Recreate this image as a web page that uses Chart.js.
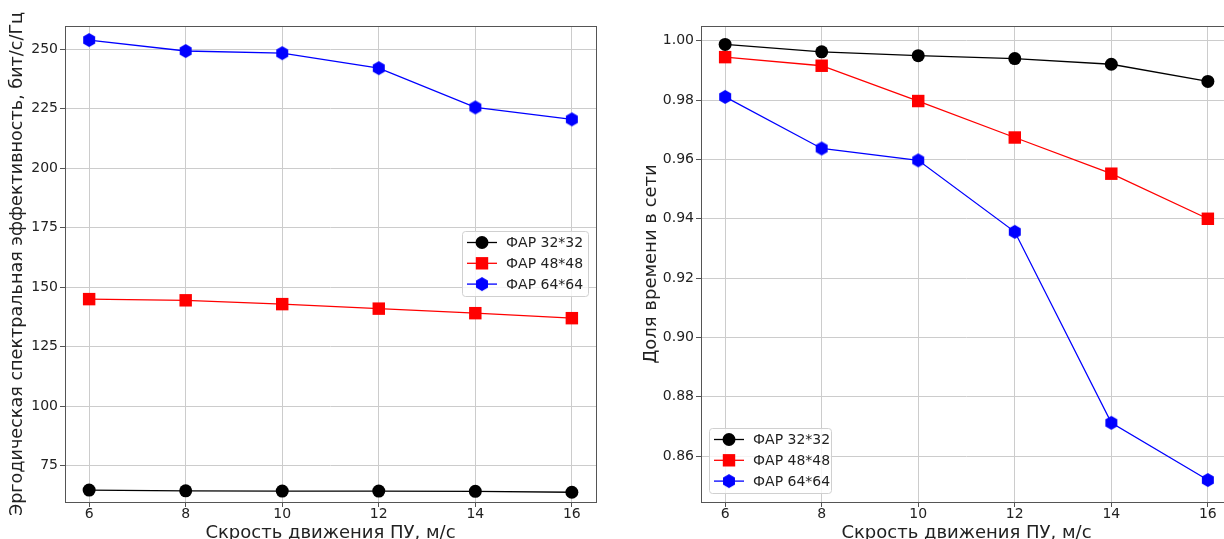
<!DOCTYPE html>
<html>
<head>
<meta charset="utf-8">
<script src="https://cdn.jsdelivr.net/npm/chart.js@4.4.1/dist/chart.umd.min.js"></script>
<style>
    html, body { margin: 0; padding: 0; background: #fff; overflow: hidden; width: 1224px; height: 539px; }
    canvas { position: absolute; top: 0; }
    #leftChart { left: 0; }
    #rightChart { left: 612px; }
</style>
</head>
<body>
<canvas id="leftChart" width="612" height="550"></canvas>
<canvas id="rightChart" width="640" height="550"></canvas>
<script>
// speeds of the user device, m/s
const speeds = [6, 8, 10, 12, 14, 16];
const seriesNames = ['ФАР 32*32', 'ФАР 48*48', 'ФАР 64*64'];

// ergodic spectral efficiency, bit/s/Hz
const se32 = [64.8, 64.5, 64.4, 64.4, 64.3, 63.9];
const se48 = [145.0, 144.5, 142.9, 141.0, 139.1, 137.0];
const se64 = [253.8, 249.2, 248.3, 242.0, 225.5, 220.5];

// share of time in the network
const on32 = [0.9988, 0.9963, 0.9950, 0.9940, 0.9921, 0.9863];
const on48 = [0.9945, 0.9916, 0.9797, 0.9674, 0.9552, 0.9400];
const on64 = [0.9811, 0.9637, 0.9597, 0.9356, 0.8712, 0.8519];

// tick labels
const xTicks = [6, 8, 10, 12, 14, 16];
const leftYTicks = [75, 100, 125, 150, 175, 200, 225, 250];
const rightYTicks = [0.86, 0.88, 0.90, 0.92, 0.94, 0.96, 0.98, 1.00];

const xTitle = 'Скрость движения ПУ, м/с';
const leftTitle = 'Эргодическая спектральная эффективность, бит/с/Гц';
const rightTitle = 'Доля времени в сети';

const FONT = 'DejaVu Sans';

// hexagon marker like matplotlib 'h'
const hexMarker = (() => {
    const c = document.createElement('canvas');
    c.width = 16; c.height = 16;
    const g = c.getContext('2d');
    g.fillStyle = 'blue';
    g.beginPath();
    for (let i = 0; i < 6; i++) {
        const a = -Math.PI / 2 + i * Math.PI / 3;
        const px = 8 + 6.9 * Math.cos(a), py = 8 + 6.9 * Math.sin(a);
        if (i === 0) g.moveTo(px, py); else g.lineTo(px, py);
    }
    g.closePath();
    g.fill();
    return c;
})();

const styles = [
    { color: 'black', pointStyle: 'circle', radius: 6.5 },
    { color: 'red', pointStyle: 'rect', radius: 8.8 },
    { color: 'blue', pointStyle: hexMarker, radius: 7 },
];

const toPoints = (ys) => ys.map((y, i) => ({ x: speeds[i], y: y }));

const makeDatasets = (lists) => lists.map((ys, i) => ({
    label: seriesNames[i],
    data: toPoints(ys),
    borderColor: styles[i].color,
    backgroundColor: styles[i].color,
    borderWidth: 1.3,
    pointStyle: styles[i].pointStyle,
    pointRadius: styles[i].radius,
    pointBorderWidth: 0,
    tension: 0,
}));

// frame around the plot area + legend box
const framePlugin = {
    id: 'frame',
    afterDatasetsDraw(chart, args, opts) {
        const { ctx, chartArea: a } = chart;
        ctx.save();
        ctx.strokeStyle = '#555';
        ctx.lineWidth = 1;
        ctx.strokeRect(Math.round(a.left) + 0.5, Math.round(a.top) + 0.5,
            Math.round(a.right - a.left), Math.round(a.bottom - a.top));

        // legend
        const lg = opts.legend;
        const x0 = a.left + lg.x, y0 = a.top + lg.y;
        ctx.beginPath();
        ctx.roundRect(x0 + 0.5, y0 + 0.5, lg.w, lg.h, 3);
        ctx.fillStyle = 'rgba(255,255,255,0.8)';
        ctx.fill();
        ctx.strokeStyle = '#d0d0d0';
        ctx.stroke();
        ctx.font = '14px "' + FONT + '"';
        ctx.textBaseline = 'middle';
        seriesNames.forEach((name, i) => {
            const y = y0 + 11.5 + i * 20.8;
            const lx = x0 + 5;
            ctx.strokeStyle = styles[i].color;
            ctx.lineWidth = 1.3;
            ctx.beginPath();
            ctx.moveTo(lx, y); ctx.lineTo(lx + 30, y);
            ctx.stroke();
            const mx = lx + 15;
            ctx.fillStyle = styles[i].color;
            if (i === 0) {
                ctx.beginPath(); ctx.arc(mx, y, 6.5, 0, Math.PI * 2); ctx.fill();
            } else if (i === 1) {
                ctx.fillRect(mx - 6.2, y - 6.2, 12.4, 12.4);
            } else {
                ctx.drawImage(hexMarker, mx - 8, y - 8);
            }
            ctx.fillStyle = '#222';
            ctx.fillText(name, lx + 39, y + 1);
        });
        ctx.restore();
    }
};

const buildChart = (id, lists, cfg) => {
    return new Chart(document.getElementById(id), {
        type: 'line',
        data: { datasets: makeDatasets(lists) },
        plugins: [framePlugin],
        options: {
            responsive: false,
            animation: false,
            layout: { padding: { top: 26, right: cfg.padRight, bottom: 0, left: 0 } },
            plugins: {
                legend: { display: false },
                tooltip: { enabled: false },
                frame: { legend: cfg.legend },
            },
            scales: {
                x: {
                    type: 'linear',
                    min: 5.5,
                    max: 16.5,
                    afterFit: (s) => { s.height = 48; },
                    afterBuildTicks: (s) => { s.ticks = xTicks.map(v => ({ value: v })); },
                    border: { display: false },
                    grid: { color: '#cccccc', lineWidth: 1, tickLength: 5, tickColor: '#555' },
                    ticks: {
                        maxRotation: 0,
                        padding: 0,
                        color: '#222',
                        font: { family: FONT, size: 14, lineHeight: 1 },
                    },
                    title: {
                        display: true,
                        text: xTitle,
                        color: '#222',
                        font: { family: FONT, size: 18 },
                        padding: { top: 0, bottom: 6 },
                    },
                },
                y: {
                    min: cfg.yMin,
                    max: cfg.yMax,
                    afterFit: (s) => { s.width = cfg.yWidth; },
                    afterBuildTicks: (s) => { s.ticks = cfg.yTicks.map(v => ({ value: v })); },
                    border: { display: false },
                    grid: { color: '#cccccc', lineWidth: 1, tickLength: 5, tickColor: '#555' },
                    ticks: {
                        padding: 2,
                        color: '#222',
                        font: { family: FONT, size: 14 },
                        callback: cfg.fmt,
                    },
                    title: {
                        display: true,
                        text: cfg.yTitle,
                        color: '#222',
                        font: { family: FONT, size: cfg.titleSize },
                        padding: { top: cfg.titlePad, bottom: 0 },
                    },
                },
            },
        },
    });
};

buildChart('leftChart', [se32, se48, se64], {
    padRight: 16,
    yWidth: 65,
    yMin: 59.8,
    yMax: 259.7,
    yTicks: leftYTicks,
    yTitle: leftTitle,
    titleSize: 17.6,
    titlePad: 7,
    fmt: (v) => String(Math.round(v)),
    legend: { x: 397, y: 205, w: 126, h: 65 },
});

buildChart('rightChart', [on32, on48, on64], {
    padRight: 20,
    yWidth: 89,
    yMin: 0.8445,
    yMax: 1.005,
    yTicks: rightYTicks,
    yTitle: rightTitle,
    titleSize: 18,
    titlePad: 29,
    fmt: (v) => v.toFixed(2),
    legend: { x: 8, y: 402, w: 122, h: 65 },
});
</script>
</body>
</html>
